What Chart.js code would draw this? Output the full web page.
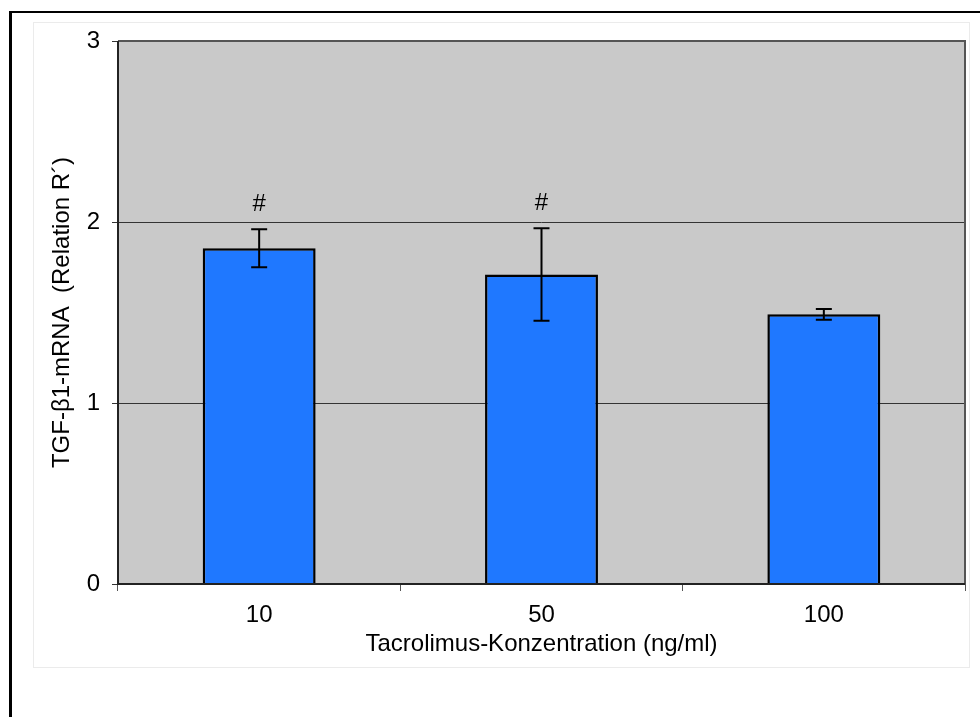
<!DOCTYPE html>
<html>
<head>
<meta charset="utf-8">
<script src="https://cdn.jsdelivr.net/npm/chart.js@4.4.1/dist/chart.umd.min.js"></script>
<style>
  body { margin: 0; background: #fff; }
  #frame { position: absolute; left: 9px; top: 11px; width: 990px; height: 730px; border-left: 3px solid #000; border-top: 2px solid #000; }
  #inner { position: absolute; left: 33px; top: 22px; width: 935px; height: 644px; border: 1px solid #ebebeb; }
  #chartWrap { position: absolute; left: 0; top: 0; width: 980px; height: 717px; }
</style>
</head>
<body>
<div id="frame"></div>
<div id="inner"></div>
<div id="chartWrap"><canvas id="tgfChart" width="980" height="717"></canvas></div>
<script>
// --- DATA ---
const concentrations = ['10', '50', '100'];
const tgfValues = [1.855, 1.71, 1.49];
const tgfErrors = [0.105, 0.255, 0.03];
const significance = ['#', '#', ''];
const yTickValues = [0, 1, 2, 3];

const FONT = "'Liberation Sans', Arial, sans-serif";

// gray plot background + frame lines
const plotBackground = {
    id: 'plotBackground',
    beforeDraw(chart) {
        const { ctx, chartArea: a } = chart;
        ctx.save();
        ctx.fillStyle = '#c9c9c9';
        ctx.fillRect(a.left, a.top, a.right - a.left, a.bottom - a.top);
        ctx.restore();
    },
    afterDraw(chart) {
        const { ctx, chartArea: a } = chart;
        ctx.save();
        ctx.lineWidth = 2;
        ctx.strokeStyle = '#555';
        ctx.beginPath();
        ctx.moveTo(a.left, a.top);
        ctx.lineTo(a.right, a.top);
        ctx.lineTo(a.right, a.bottom);
        ctx.stroke();
        ctx.strokeStyle = '#222';
        ctx.beginPath();
        ctx.moveTo(a.left, a.top);
        ctx.lineTo(a.left, a.bottom);
        ctx.lineTo(a.right, a.bottom);
        ctx.stroke();
        ctx.restore();
    },
};

// error bars and significance marks
const errorBars = {
    id: 'errorBars',
    afterDatasetsDraw(chart) {
        const { ctx } = chart;
        const yScale = chart.scales.y;
        const meta = chart.getDatasetMeta(0);
        ctx.save();
        ctx.strokeStyle = '#000';
        ctx.lineWidth = 2;
        meta.data.forEach((bar, i) => {
            const x = bar.x;
            const top = yScale.getPixelForValue(tgfValues[i] + tgfErrors[i]);
            const bottom = yScale.getPixelForValue(tgfValues[i] - tgfErrors[i]);
            const cap = 8;
            ctx.beginPath();
            ctx.moveTo(x, top);
            ctx.lineTo(x, bottom);
            ctx.moveTo(x - cap, top);
            ctx.lineTo(x + cap, top);
            ctx.moveTo(x - cap, bottom);
            ctx.lineTo(x + cap, bottom);
            ctx.stroke();
            if (significance[i]) {
                ctx.fillStyle = '#000';
                ctx.font = `24px ${FONT}`;
                ctx.textAlign = 'center';
                ctx.textBaseline = 'middle';
                ctx.fillText(significance[i], x, top - 25);
            }
        });
        ctx.restore();
    },
};

const ctx = document.getElementById('tgfChart').getContext('2d');
new Chart(ctx, {
    type: 'bar',
    data: {
        labels: concentrations,
        datasets: [
            {
                data: tgfValues,
                backgroundColor: '#1f78ff',
                borderColor: '#000',
                borderWidth: 2.5,
                barPercentage: 0.8,
                categoryPercentage: 0.5,
            },
        ],
    },
    options: {
        responsive: false,
        animation: false,
        layout: { padding: { top: 41, right: 15, left: 0, bottom: 0 } },
        plugins: {
            legend: { display: false },
            tooltip: { enabled: false },
        },
        scales: {
            x: {
                offset: true,
                border: { display: false },
                grid: {
                    offset: true,
                    drawOnChartArea: false,
                    drawTicks: true,
                    tickLength: 7,
                    color: '#555',
                    lineWidth: 1,
                },
                ticks: {
                    color: '#000',
                    font: { family: FONT, size: 24 },
                    padding: 10,
                },
                title: {
                    display: true,
                    text: 'Tacrolimus-Konzentration (ng/ml)',
                    color: '#000',
                    font: { family: FONT, size: 24 },
                    padding: { top: 0, bottom: 58 },
                },
                afterFit(scale) {
                    scale.height = 133;
                },
            },
            y: {
                min: 0,
                max: 3,
                border: { display: false },
                afterBuildTicks(scale) {
                    scale.ticks = yTickValues.map((v) => ({ value: v }));
                },
                grid: {
                    color: '#333',
                    lineWidth: 1,
                    tickLength: 6,
                },
                ticks: {
                    color: '#000',
                    font: { family: FONT, size: 24 },
                    padding: 12,
                },
                title: {
                    display: true,
                    text: 'TGF-β1-mRNA  (Relation R´)',
                    color: '#000',
                    font: { family: FONT, size: 24 },
                    padding: { top: 48, bottom: 0 },
                },
                afterFit(scale) {
                    scale.width = 118;
                },
            },
        },
    },
    plugins: [plotBackground, errorBars],
});
</script>
</body>
</html>
